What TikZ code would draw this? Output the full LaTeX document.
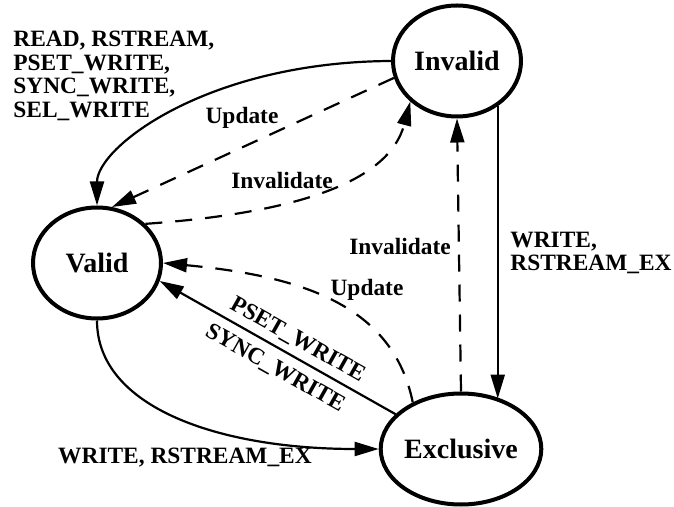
\documentclass[tikz,border=0pt]{standalone}
\usepackage{fontspec}
\setmainfont{Liberation Serif}
\usetikzlibrary{shapes.geometric,arrows.meta}
\begin{document}
\begin{tikzpicture}[x=0.5pt,y=-0.5pt,
  state/.style={ellipse,draw,line width=2pt,minimum width=64pt,minimum height=55.5pt,inner sep=0pt,font=\fontsize{14}{16}\selectfont\bfseries},
  lbl/.style={font=\fontsize{11.7}{11.75}\selectfont\bfseries,inner sep=0pt},
  trans/.style={line width=1.1pt,-{Triangle[length=12pt,width=7pt]}},
  upd/.style={trans,dash pattern=on 8.5pt off 6.5pt}]
\useasboundingbox (0,0) rectangle (674,507);

\node[state] (inv) at (457,61) {Invalid};
\node[state] (val) at (97,263) {Valid};
\node[state] (exc) at (461,449) {Exclusive};

\draw[trans] (inv.west) .. controls (207,62) and (97,147) .. (val.north);
\node[lbl,anchor=north west,align=left] (rd) at (13,31) {READ, RSTREAM,\\PSET\_WRITE,\\SYNC\_WRITE,\\SEL\_WRITE};

\draw[upd] (inv.195) -- (val.75);
\node[lbl] (upd1) at (242,118) {Update};

\draw[upd] (val.39) .. controls (297,213) and (389,182) .. (inv.221);
\node[lbl] (inv1) at (282,180) {Invalidate};

\draw[upd] (exc.north) -- (inv.south);
\node[lbl] (inv2) at (400,246) {Invalidate};

\draw[trans] (inv.-48) -- (inv.-48 |- exc.52);
\node[lbl,anchor=west,align=left] (wr1) at (510,253) {WRITE,\\RSTREAM\_EX};

\draw[upd] (exc.136) .. controls (393,305) and (301,276) .. (val.east);
\node[lbl] (upd2) at (367,290) {Update};

\draw[trans] (exc.152) -- (val.-16)
  node[lbl,sloped,pos=0.45,above=3pt] (pw) {PSET\_WRITE}
  node[lbl,sloped,pos=0.47,below=4.5pt] (sw) {SYNC\_WRITE};

\draw[trans] (val.south) .. controls (97,407) and (218,449) .. (exc.west);
\node[lbl] (wr2) at (185,458) {WRITE, RSTREAM\_EX};
\end{tikzpicture}
\end{document}
